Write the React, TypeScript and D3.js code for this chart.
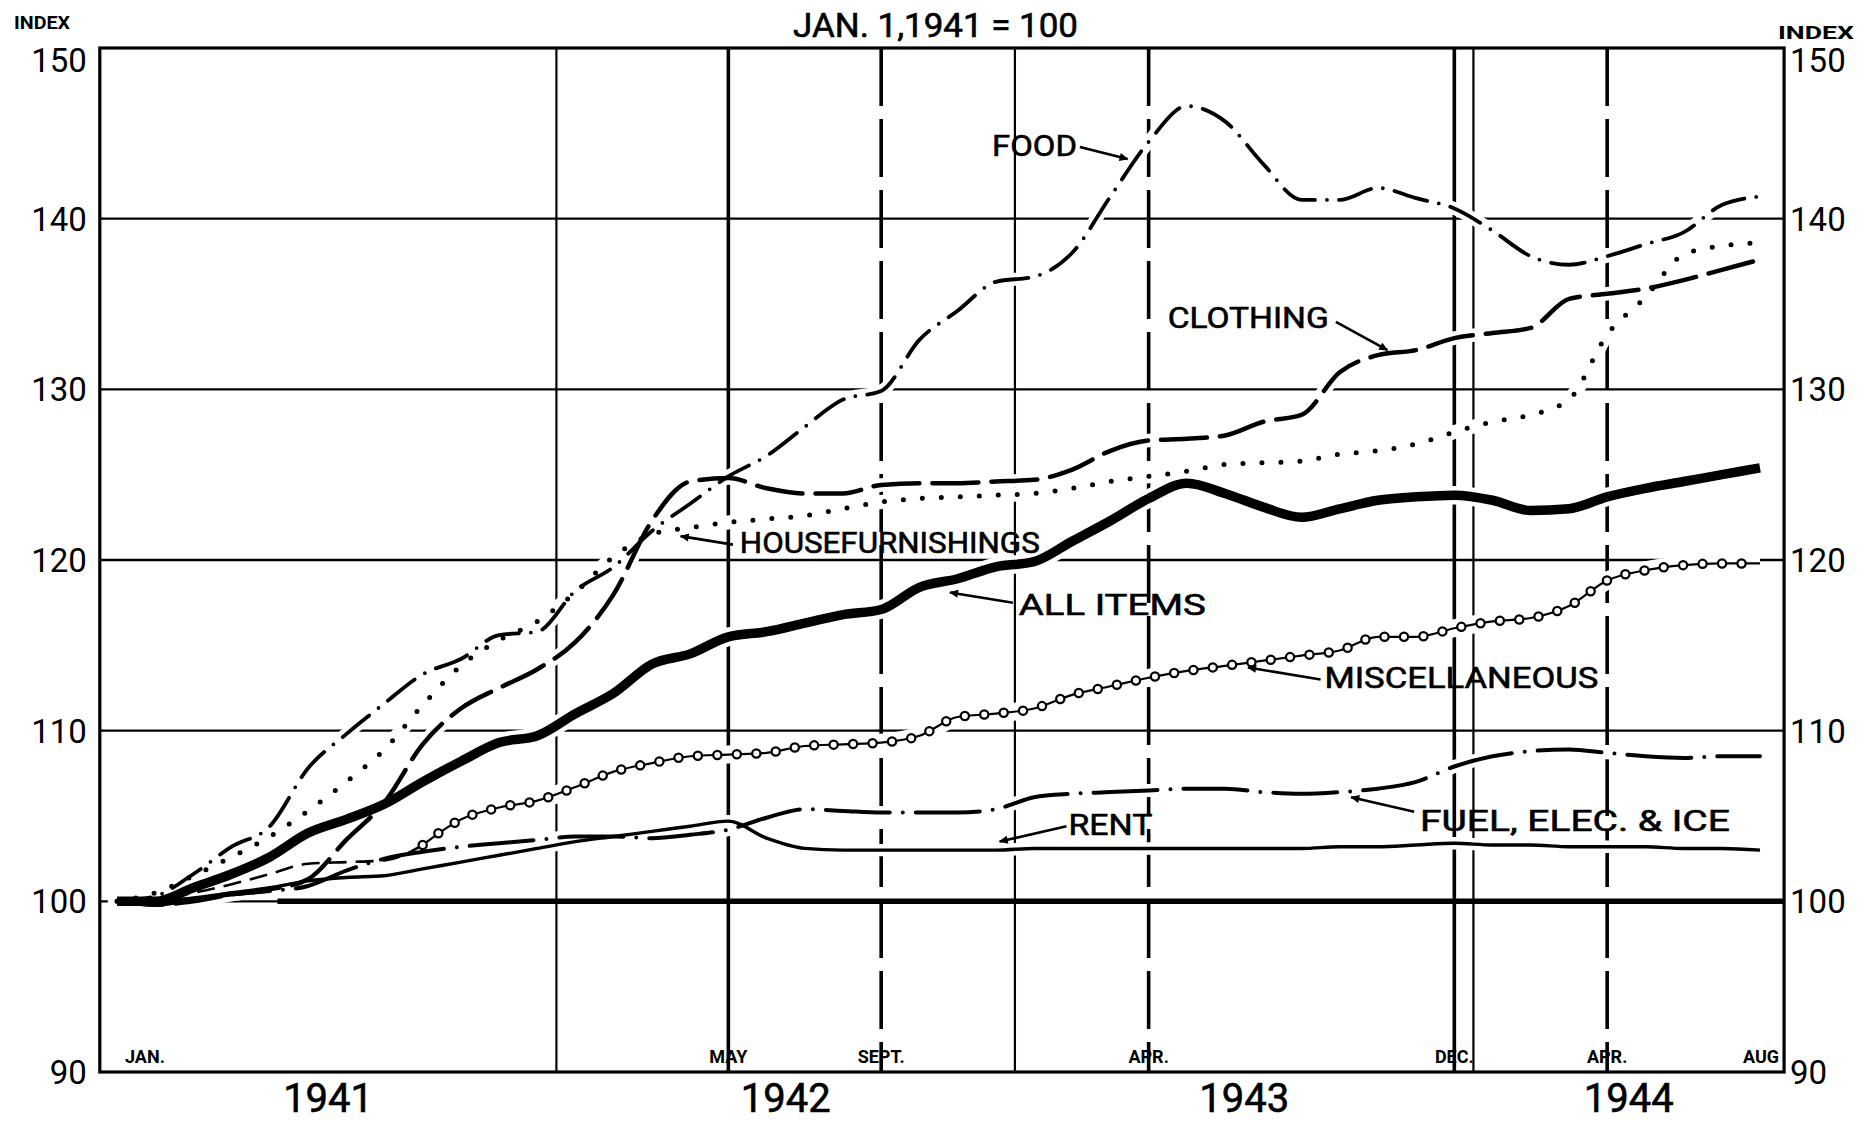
import * as d3 from "d3";

// Cost of living, large cities, Jan. 1, 1941 = 100
// one value per month, Jan. 1941 .. Aug. 1944
const allItems = [
  100.0, 100.0, 100.8, 101.6, 102.6, 104.0, 104.8, 105.7, 107.0, 108.2, 109.3, 109.7,
  111.0, 112.2, 113.9, 114.5, 115.5, 115.8, 116.3, 116.8, 117.1, 118.4, 118.9, 119.6,
  119.9, 121.1, 122.3, 123.6, 124.5, 123.9, 123.1, 122.5, 123.0, 123.5, 123.7, 123.8,
  123.5, 122.9, 123.0, 123.7, 124.2, 124.6, 125.0, 125.4,
];
const food = [
  100.0, 100.3, 101.6, 103.2, 104.4, 107.8, 109.8, 111.6, 113.3, 114.2, 115.6, 115.8,
  118.2, 119.6, 121.7, 123.3, 124.9, 126.1, 127.8, 129.4, 129.9, 132.9, 134.6, 136.3,
  136.6, 138.0, 141.3, 144.5, 146.6, 145.7, 143.2, 141.1, 141.1, 141.8, 141.2, 140.6,
  139.3, 137.8, 137.3, 137.8, 138.5, 139.2, 140.8, 141.3,
];
const clothing = [
  100.0, 99.8, 100.0, 100.4, 100.7, 101.3, 103.6, 105.8, 109.2, 111.3, 112.5, 113.6,
  115.2, 118.0, 122.3, 124.6, 124.8, 124.2, 123.9, 123.9, 124.4, 124.5, 124.5, 124.6,
  124.7, 125.3, 126.4, 127.0, 127.1, 127.3, 128.1, 128.5, 131.0, 132.0, 132.3, 133.0,
  133.3, 133.6, 135.3, 135.6, 135.9, 136.4, 137.0, 137.6,
];
const housefurnishings = [
  100.0, 100.5, 101.5, 102.6, 103.8, 105.3, 107.0, 108.9, 111.5, 113.8, 115.3, 116.4,
  118.1, 120.2, 121.5, 121.9, 122.2, 122.4, 122.6, 123.0, 123.4, 123.6, 123.7, 123.8,
  123.9, 124.2, 124.6, 124.9, 125.2, 125.6, 125.7, 125.8, 126.2, 126.4, 126.8, 127.5,
  128.1, 128.5, 129.4, 133.2, 135.4, 137.9, 138.4, 138.6,
];
const miscellaneous = [
  100.0, 100.1, 100.5, 101.0, 101.6, 102.2, 102.3, 102.4, 103.3, 104.8, 105.5, 105.9,
  106.7, 107.6, 108.1, 108.5, 108.6, 108.7, 109.1, 109.2, 109.3, 109.7, 110.8, 111.0,
  111.3, 112.1, 112.6, 113.1, 113.5, 113.8, 114.1, 114.4, 114.7, 115.5, 115.5, 116.0,
  116.4, 116.6, 117.3, 118.8, 119.4, 119.7, 119.8, 119.8,
];
const fuelElecIce = [
  100.0, 99.8, 100.1, 100.4, 100.6, 100.9, 101.8, 102.5, 102.9, 103.2, 103.4, 103.6,
  103.8, 103.8, 103.7, 103.9, 104.2, 104.9, 105.4, 105.3, 105.2, 105.2, 105.2, 105.4,
  106.1, 106.3, 106.4, 106.5, 106.6, 106.6, 106.4, 106.3, 106.4, 106.6, 107.0, 107.9,
  108.5, 108.8, 108.9, 108.7, 108.5, 108.4, 108.5, 108.5,
];
const rent = [
  100.0, 100.0, 100.2, 100.5, 100.8, 101.2, 101.4, 101.5, 101.9, 102.3, 102.7, 103.1,
  103.5, 103.8, 104.1, 104.4, 104.7, 103.7, 103.1, 103.0, 103.0, 103.0, 103.0, 103.0,
  103.1, 103.1, 103.1, 103.1, 103.1, 103.1, 103.1, 103.1, 103.2, 103.2, 103.3, 103.4,
  103.3, 103.3, 103.2, 103.2, 103.2, 103.1, 103.1, 103.0,
];

const yTicks = [90, 100, 110, 120, 130, 140, 150];
const years = ["1941", "1942", "1943", "1944"];
const yearBreaks = [11.5, 23.5, 35.5]; // between Dec. and Jan.
const markMonths = [16, 20, 27, 35, 39]; // May 42, Sept 42, Apr 43, Dec 43, Apr 44
const markDashed = [false, true, true, false, true];
const monthLabels = ["JAN.", "MAY", "SEPT.", "APR.", "DEC.", "APR.", "AUG"];
const monthLabelAt = [0, 16, 20, 27, 35, 39, 43];
const lastMonth = 43;

const width = 1871;
const height = 1134;
const font = "Roboto, 'Liberation Sans', Arial, sans-serif";

const x = d3.scaleLinear().domain([0, lastMonth]).range([117, 1760]);
const y = d3.scaleLinear().domain([90, 150]).range([1072, 48]);
const frameLeft = x(-0.45);
const frameRight = x(43.63);

const line = d3
  .line<number>()
  .x((_, i) => x(i))
  .y((d) => y(d))
  .curve(d3.curveMonotoneX);

const lineFrom = (start: number) =>
  d3
    .line<number>()
    .x((_, i) => x(i + start))
    .y((d) => y(d))
    .curve(d3.curveMonotoneX);

const series = [
  { key: "rent", values: rent, w: 3.4, dash: undefined },
  { key: "fuel", values: fuelElecIce, w: 4, dash: "64 13 0 13" },
  { key: "house", values: housefurnishings, w: 5, dash: "0 19" },
  { key: "clothing", values: clothing, w: 4.5, dash: "46 13" },
  { key: "food", values: food, w: 3.8, dash: "34 12 0 12" },
  { key: "all", values: allItems, w: 9.5, dash: undefined },
];

const annotations = [
  { text: "FOOD", at: [22.9, 143.7], len: 85, from: [25.2, 144.2], to: [26.45, 143.5] },
  { text: "CLOTHING", at: [27.5, 133.6], len: 161, from: [31.9, 133.95], to: [33.25, 132.3] },
  { text: "HOUSEFURNISHINGS", at: [16.3, 120.4], len: 300, from: [16.12, 120.9], to: [14.75, 121.4] },
  { text: "ALL ITEMS", at: [23.6, 116.8], len: 187, from: [23.45, 117.5], to: [21.8, 118.1] },
  { text: "MISCELLANEOUS", at: [31.6, 112.5], len: 274, from: [31.5, 113.0], to: [29.6, 113.7] },
  { text: "FUEL, ELEC. & ICE", at: [34.1, 104.1], len: 310, from: [33.95, 105.25], to: [32.3, 106.1] },
  { text: "RENT", at: [24.9, 103.9], len: 84, from: [24.85, 104.4], to: [23.1, 103.5] },
];

const App = () => {
  const miscEarly = miscellaneous.slice(0, 9);
  const miscLate = miscellaneous.slice(8);
  const yearEdges = [-0.45, ...yearBreaks, 43.63];

  return (
    <svg
      width={width}
      height={height}
      style={{ position: "absolute", left: 0, top: 0, display: "block" }}
      fontFamily={font}
    >
      <defs>
        <marker
          id="arrow"
          viewBox="0 0 10 10"
          refX="9"
          refY="5"
          markerWidth="16"
          markerHeight="9"
          markerUnits="userSpaceOnUse"
          orient="auto"
        >
          <path d="M0,0.5 L10,5 L0,9.5 z" fill="#000" />
        </marker>
      </defs>
      <rect width={width} height={height} fill="#fff" />

      {/* horizontal grid */}
      {yTicks
        .filter((t) => t > 90 && t < 150)
        .map((t) => (
          <line
            key={t}
            x1={frameLeft}
            x2={frameRight}
            y1={y(t)}
            y2={y(t)}
            stroke="#000"
            strokeWidth={2.4}
          />
        ))}

      {/* year boundaries */}
      {yearBreaks.map((m) => (
        <line key={m} x1={x(m)} x2={x(m)} y1={y(150)} y2={y(90)} stroke="#000" strokeWidth={2.2} />
      ))}
      {/* dated reference lines */}
      {markMonths.map((m, i) => (
        <line
          key={m}
          x1={x(m)}
          x2={x(m)}
          y1={y(150)}
          y2={y(90)}
          stroke="#000"
          strokeWidth={3.6}
          strokeDasharray={markDashed[i] ? "58 13" : undefined}
        />
      ))}

      {/* white halos so the grid breaks where the curves cross */}
      {series.map((s) => (
        <path
          key={"h" + s.key}
          d={line(s.values) || ""}
          fill="none"
          stroke="#fff"
          strokeWidth={s.w + 9}
          strokeLinecap="round"
        />
      ))}
      <path d={line(miscellaneous) || ""} fill="none" stroke="#fff" strokeWidth={18} />

      {/* heavy 100 base line */}
      <line
        x1={x(4.2)}
        x2={frameRight}
        y1={y(100)}
        y2={y(100)}
        stroke="#000"
        strokeWidth={5.5}
      />

      <rect
        x={frameLeft}
        y={y(150)}
        width={frameRight - frameLeft}
        height={y(90) - y(150)}
        fill="none"
        stroke="#000"
        strokeWidth={3.2}
      />

      {/* miscellaneous: line with open circles */}
      <path
        d={lineFrom(0)(miscEarly) || ""}
        fill="none"
        stroke="#000"
        strokeWidth={2.6}
        strokeDasharray="18 9"
      />
      <path
        d={lineFrom(8)(miscLate) || ""}
        fill="none"
        stroke="#000"
        strokeWidth={2.2}
      />
      <path
        d={lineFrom(8)(miscLate) || ""}
        fill="none"
        stroke="#000"
        strokeWidth={10.5}
        strokeLinecap="round"
        strokeDasharray="0 19.5"
      />
      <path
        d={lineFrom(8)(miscLate) || ""}
        fill="none"
        stroke="#fff"
        strokeWidth={6}
        strokeLinecap="round"
        strokeDasharray="0 19.5"
      />

      {series.map((s) => (
        <path
          key={s.key}
          d={line(s.values) || ""}
          fill="none"
          stroke="#000"
          strokeWidth={s.w}
          strokeLinecap={s.dash ? "round" : "butt"}
          strokeLinejoin="round"
          strokeDasharray={s.dash}
        />
      ))}

      {/* series labels */}
      {annotations.map((a) => (
        <g key={a.text}>
          <text
            x={x(a.at[0])}
            y={y(a.at[1])}
            fontSize={30}
            fontWeight={400}
            stroke="#000"
            strokeWidth={0.6}
            textLength={a.len}
            lengthAdjust="spacingAndGlyphs"
          >
            {a.text}
          </text>
          <line
            x1={x(a.from[0])}
            y1={y(a.from[1])}
            x2={x(a.to[0])}
            y2={y(a.to[1])}
            stroke="#000"
            strokeWidth={2.6}
            markerEnd="url(#arrow)"
          />
        </g>
      ))}

      {/* axes text */}
      {yTicks.map((t) => (
        <g key={t} fontSize={33} fontWeight={400}>
          <text x={frameLeft - 13} y={y(t) + (t === 150 ? 12 : 0)} dy="0.36em" textAnchor="end">
            {t}
          </text>
          <text x={frameRight + 6} y={y(t) + (t === 150 ? 12 : 0)} dy="0.36em">
            {t}
          </text>
        </g>
      ))}
      <text x={14} y={29} fontSize={18} fontWeight={700} textLength={56} lengthAdjust="spacingAndGlyphs">
        INDEX
      </text>
      <text x={1778} y={39} fontSize={19} fontWeight={700} textLength={76} lengthAdjust="spacingAndGlyphs">
        INDEX
      </text>
      <text
        x={793}
        y={37}
        fontSize={33}
        fontWeight={400}
        stroke="#000"
        strokeWidth={0.6}
        textLength={285}
        lengthAdjust="spacingAndGlyphs"
      >
        JAN. 1,1941 = 100
      </text>

      {monthLabels.map((l, i) => {
        const first = i === 0;
        const last = i === monthLabels.length - 1;
        return (
          <text
            key={i}
            x={first ? x(monthLabelAt[i]) + 8 : last ? frameRight - 5 : x(monthLabelAt[i])}
            y={y(90) - 9}
            fontSize={18}
            fontWeight={700}
            textAnchor={first ? "start" : last ? "end" : "middle"}
          >
            {l}
          </text>
        );
      })}

      {years.map((yr, i) => (
        <text
          key={yr}
          x={(x(yearEdges[i]) + x(yearEdges[i + 1])) / 2}
          y={y(90) + 40}
          fontSize={40}
          fontWeight={400}
          stroke="#000"
          strokeWidth={0.6}
          textAnchor="middle"
        >
          {yr}
        </text>
      ))}
    </svg>
  );
};

export default App;
